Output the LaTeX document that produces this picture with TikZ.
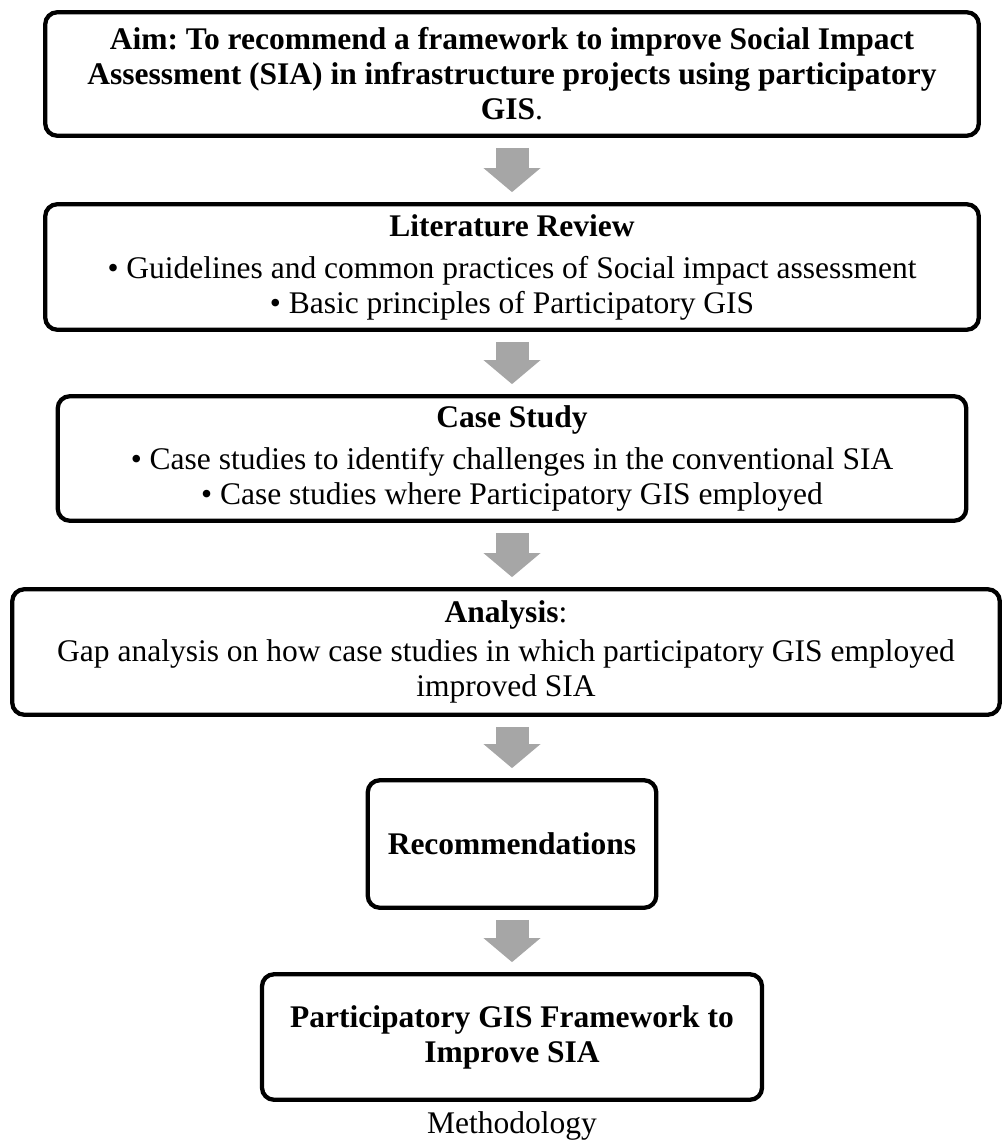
\documentclass[tikz,border=0pt]{standalone}
\usepackage{fontspec}
\setmainfont{Liberation Serif}
\usetikzlibrary{positioning,arrows.meta,calc}
\definecolor{arrowgray}{HTML}{A6A6A6}
\frenchspacing
\tikzset{
  stage/.style={draw, line width=4.3pt, rounded corners=12pt, inner sep=0pt,
    align=center, font=\fontsize{31.5}{35}\selectfont},
  flow/.style={draw=arrowgray, line width=33pt, shorten <=10pt, shorten >=10pt,
    -{Triangle[length=24pt 0 0, width=57pt 0 0, line width=0pt 0 0]}}
}
\newcommand*{\itm}{\textbullet\ }

\begin{document}
\begin{tikzpicture}[x=1pt,y=1pt]
\useasboundingbox (0,0) rectangle (1003,-1147);
\node[stage, minimum width=933.5pt, minimum height=123.5pt] (aim) at (512,-74)
  {\textbf{Aim: To recommend a framework to improve Social Impact}\\
   \textbf{Assessment (SIA) in infrastructure projects using participatory}\\
   \textbf{GIS}.};
\node[stage, minimum width=933.5pt, minimum height=125.5pt] (lit) at (512,-267)
  {\textbf{Literature Review}\\[7pt]
   \itm Guidelines and common practices of Social impact assessment\\
   \itm Basic principles of Participatory GIS};
\node[stage, minimum width=908.5pt, minimum height=124.5pt] (cs) at (512,-458.5)
  {\textbf{Case Study}\\[7pt]
   \itm Case studies to identify challenges in the conventional SIA\\
   \itm Case studies where Participatory GIS employed};
\node[stage, minimum width=987.5pt, minimum height=125.5pt] (ana) at (506,-652)
  {\textbf{Analysis}:\\[4pt]
   Gap analysis on how case studies in which participatory GIS employed\\
   improved SIA};
\node[stage, minimum width=288.5pt, minimum height=127.5pt] (rec) at (512,-844)
  {\textbf{Recommendations}};
\node[stage, minimum width=500pt, minimum height=125.5pt] (fw) at (512,-1037)
  {\textbf{Participatory GIS Framework to}\\
   \textbf{Improve SIA}};
\node[font=\fontsize{31.5}{35}\selectfont, anchor=base] (cap) at (512,-1133) {Methodology};

% grey block arrows between the stages
\draw[flow] (aim) -- (lit);
\draw[flow] (lit) -- (cs);
\draw[flow] (cs.south) -- (cs.south |- ana.north);
\draw[flow] (rec.north |- ana.south) -- (rec);
\draw[flow] (rec) -- (fw);
\end{tikzpicture}
\end{document}
